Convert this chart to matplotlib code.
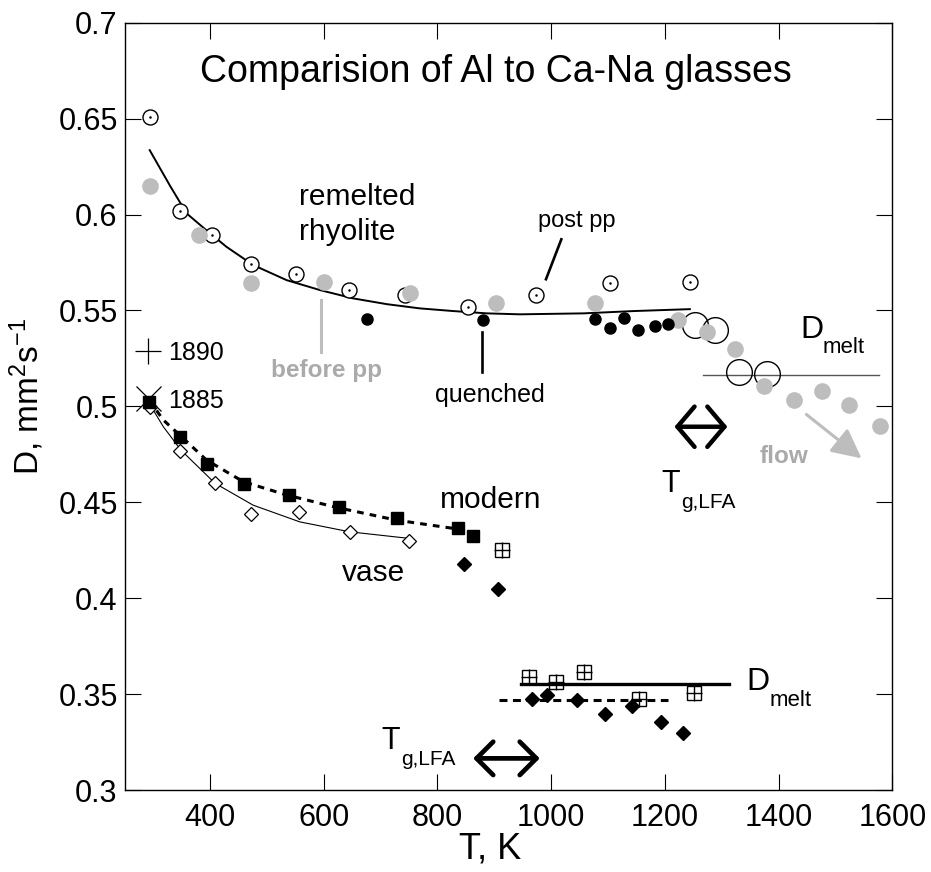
import matplotlib
matplotlib.use("Agg")
import matplotlib.pyplot as plt

plt.rcParams['font.family'] = ['Liberation Sans', 'DejaVu Sans']
plt.rcParams['mathtext.default'] = 'regular'

# remelted rhyolite, after post-processing (open circles with centre dot)
post_T = [294, 347, 403, 473, 552, 645, 743, 854, 973, 1103, 1244]
post_D = [0.651, 0.6018, 0.5892, 0.574, 0.569, 0.5606, 0.558, 0.5516, 0.558, 0.5641, 0.5647]

# high temperature runs (large open circles)
hot_T = [1253, 1288, 1331, 1379]
hot_D = [0.5424, 0.5398, 0.518, 0.5168]

# before post-processing (grey dots)
before_T = [294, 381, 473, 601, 752, 903, 1077, 1224, 1274, 1323, 1374, 1428, 1476, 1524, 1578]
before_D = [0.6149, 0.5893, 0.5641, 0.565, 0.5592, 0.554, 0.554, 0.545, 0.5389, 0.5299,
            0.5107, 0.5033, 0.5081, 0.5007, 0.4899]

# quenched (small black dots)
quench_T = [676, 880, 1078, 1103, 1129, 1152, 1183, 1206]
quench_D = [0.5457, 0.545, 0.5457, 0.5407, 0.5459, 0.5398, 0.5419, 0.5429]

# fit through rhyolite
rhy_fit_T = [294, 330, 359, 397, 429, 476, 535, 594, 652, 711, 769, 828, 887, 945, 1057, 1145, 1244]
rhy_fit_D = [0.6336, 0.6149, 0.6006, 0.5910, 0.5832, 0.5737, 0.5658, 0.5606, 0.5563, 0.5533,
             0.5511, 0.5497, 0.5485, 0.5480, 0.5485, 0.5497, 0.5507]

# modern Ca-Na glass (black squares) and its fit
modern_T = [293, 348, 395, 460, 539, 627, 729, 837, 863]
modern_D = [0.5024, 0.4838, 0.4698, 0.4595, 0.4539, 0.4477, 0.4416, 0.4364, 0.4324]
modern_fit_T = [293, 318, 347, 394, 459, 535, 623, 728, 828]
modern_fit_D = [0.5033, 0.4929, 0.4850, 0.4720, 0.4607, 0.4538, 0.4473, 0.4407, 0.4364]

# vase (open diamonds) and its fit
vase_T = [294, 348, 409, 473, 556, 646, 750]
vase_D = [0.4995, 0.4767, 0.4599, 0.4437, 0.445, 0.4346, 0.4299]
vase_fit_T = [295, 318, 349, 409, 476, 558, 646, 750]
vase_fit_D = [0.5007, 0.4894, 0.4772, 0.4599, 0.4485, 0.4398, 0.4346, 0.4312]

# high temperature Ca-Na runs
dia_T = [847, 906, 966, 992, 1045, 1095, 1143, 1194, 1232]
dia_D = [0.4176, 0.4046, 0.3474, 0.3495, 0.3469, 0.3396, 0.3437, 0.3356, 0.3295]
box_T = [913, 961, 1008, 1058, 1154, 1252]
box_D = [0.4251, 0.3587, 0.3564, 0.3613, 0.3475, 0.3504]

# old glasses
old_T = [291, 291]
old_D = [0.529, 0.5042]
old_labels = ["1890", "1885"]

# melt levels
melt_rhy = 0.5163
melt_box = 0.3552
melt_dia = 0.3469

fig = plt.figure(figsize=(9.31, 8.72), dpi=100)
ax = fig.add_axes([0.1339, 0.094, 0.8245, 0.8799])

GREY = '#bdbdbd'

# rhyolite group
ax.plot(rhy_fit_T, rhy_fit_D, color='black', lw=1.4, zorder=2)
ax.plot(post_T, post_D, 'o', ms=10.8, mfc='white', mec='black', mew=1.0, zorder=3)
ax.plot(post_T, post_D, '.', ms=1.6, color='black', zorder=4)
ax.plot(hot_T, hot_D, 'o', ms=18.5, mfc='none', mec='black', mew=1.0, zorder=3)
ax.plot(before_T, before_D, 'o', ms=12, color=GREY, mec='none', zorder=5)
ax.plot(quench_T, quench_D, 'o', ms=8, color='black', zorder=5)
ax.plot([1268, 1577], [melt_rhy, melt_rhy], color='#555555', lw=1.0, zorder=2)

# Ca-Na group
ax.plot(vase_fit_T, vase_fit_D, color='black', lw=0.8, zorder=2)
ax.plot(modern_fit_T, modern_fit_D, color='black', lw=2.2, dashes=(2.2, 2.0), zorder=2)
ax.plot(vase_T, vase_D, 'D', ms=7.2, mfc='white', mec='black', mew=0.9, zorder=3)
ax.plot(modern_T, modern_D, 's', ms=8, color='black', zorder=3)
ax.plot([947, 1312], [melt_box, melt_box], color='black', lw=2.4, zorder=2)
ax.plot([908, 1205], [melt_dia, melt_dia], color='black', lw=2.2, dashes=(2.6, 1.8), zorder=2)
ax.plot(dia_T, dia_D, 'D', ms=7.6, color='black', zorder=3)
ax.plot(box_T, box_D, 's', ms=10, mfc='none', mec='black', mew=1.0, zorder=3)
ax.plot(box_T, box_D, '+', ms=11, color='black', mew=1.0, zorder=3)

ax.plot(old_T[0], old_D[0], '+', ms=19, color='black', mew=0.9, zorder=4)
ax.plot(old_T[1], old_D[1], 'x', ms=18, color='black', mew=0.9, zorder=4)
for d, lab in zip(old_D, old_labels):
    ax.text(326, d - 0.005, lab, fontsize=18, va='baseline')

# leader lines
ax.plot([1018, 991], [0.5871, 0.5663], color='black', lw=1.9)
ax.plot([595, 595], [0.5554, 0.5285], color=GREY, lw=2.2)
ax.plot([879, 879], [0.5389, 0.518], color='black', lw=1.9)

# glass transition ranges
ax.annotate('', xy=(1310, 0.4894), xytext=(1217, 0.4894),
            arrowprops=dict(arrowstyle='<->,head_length=0.85,head_width=1.0',
                            mutation_scale=14.5, lw=3.2, color='black',
                            shrinkA=0, shrinkB=0, capstyle='round', joinstyle='round'))
ax.annotate('', xy=(980, 0.3165), xytext=(863, 0.3165),
            arrowprops=dict(arrowstyle='<->,head_length=1.0,head_width=1.0',
                            mutation_scale=12, lw=3.4, color='black',
                            shrinkA=0, shrinkB=0, capstyle='round', joinstyle='round'))
# flow arrow
ax.annotate('', xy=(1546, 0.4729), xytext=(1449, 0.4958),
            arrowprops=dict(arrowstyle='-|>,head_length=0.9,head_width=0.45',
                            mutation_scale=20, lw=2.2, color=GREY,
                            shrinkA=0, shrinkB=0))

# labels
ax.text(0.098, 0.923, 'Comparision of Al to Ca-Na glasses', transform=ax.transAxes,
        fontsize=27, va='baseline', ha='left')
ax.text(557, 0.605, 'remelted', fontsize=21.5, va='baseline')
ax.text(557, 0.5867, 'rhyolite', fontsize=21.5, va='baseline')
ax.text(977, 0.5936, 'post pp', fontsize=17, va='baseline')
ax.text(508, 0.5154, 'before pp', fontsize=17.5, fontweight='bold', color='#aaaaaa', va='baseline')
ax.text(796, 0.5024, 'quenched', fontsize=18, va='baseline')
ax.text(805, 0.4468, 'modern', fontsize=21.5, va='baseline')
ax.text(632, 0.4091, 'vase', fontsize=21.5, va='baseline')
ax.text(1366, 0.4706, 'flow', fontsize=17.5, fontweight='bold', color='#aaaaaa', va='baseline')

ax.text(1438, 0.5355, 'D', fontsize=23, va='baseline')
ax.text(1478, 0.5276, 'melt', fontsize=16, va='baseline')
ax.text(1344, 0.3524, 'D', fontsize=23, va='baseline')
ax.text(1384, 0.3437, 'melt', fontsize=16, va='baseline')

ax.text(1194, 0.4555, 'T', fontsize=22, va='baseline')
ax.text(1228, 0.4468, 'g,LFA', fontsize=15, va='baseline')
ax.text(702, 0.3216, 'T', fontsize=22, va='baseline')
ax.text(736, 0.3130, 'g,LFA', fontsize=15, va='baseline')

ax.set_xlim(250, 1600)
ax.set_ylim(0.3, 0.7)
xt = [400, 600, 800, 1000, 1200, 1400, 1600]
yt = [0.3, 0.35, 0.4, 0.45, 0.5, 0.55, 0.6, 0.65, 0.7]
ax.set_xticks(xt)
ax.set_yticks(yt)
ax.set_yticklabels(['%g' % v for v in yt])
ax.tick_params(direction='in', length=11.5, width=0.8, labelsize=22,
               top=True, right=True, pad=5)
ax.tick_params(axis='x', pad=9)
for s in ax.spines.values():
    s.set_linewidth(1.0)

ax.set_xlabel('T, K', fontsize=26, labelpad=-1)
ax.xaxis.label.set_x(0.476)
ax.set_ylabel('D, mm$^2$s$^{-1}$', fontsize=24)
ax.yaxis.set_label_coords(-0.103, 0.513)

fig.savefig('out.png', dpi=100)
